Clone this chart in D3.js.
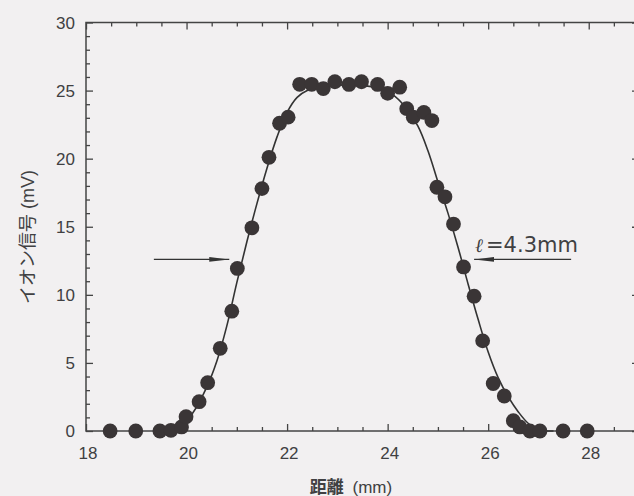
<!DOCTYPE html>
<html>
<head>
<meta charset="utf-8">
<script src="https://cdn.jsdelivr.net/npm/d3@7/dist/d3.min.js"></script>
<style>
  html, body { margin: 0; padding: 0; background: #f2f0f1; }
  svg { display: block; }
  text { font-family: "Liberation Sans", Arial, "Noto Sans CJK JP", sans-serif; fill: #404042; }
  .cjk { font-family: "Liberation Sans", "Noto Sans CJK JP", sans-serif; }
</style>
</head>
<body>
<svg id="chart" width="634" height="496"></svg>
<script>
// Measured ion signal vs. distance (mm, mV)
const pointX = [18.48, 18.99, 19.47, 19.69, 19.90, 19.99, 20.25, 20.42, 20.67, 20.90,
                21.01, 21.30, 21.50, 21.64, 21.85, 22.02, 22.25, 22.49, 22.72, 22.95,
                23.23, 23.48, 23.80, 24.00, 24.24, 24.38, 24.51, 24.72, 24.88, 24.98,
                25.14, 25.31, 25.51, 25.72, 25.89, 26.10, 26.32, 26.50, 26.63, 26.83,
                27.03, 27.49, 27.97];
const pointY = [0, 0, 0, 0.05, 0.3, 1.05, 2.15, 3.55, 6.07, 8.8,
                11.94, 14.92, 17.8, 20.1, 22.6, 23.05, 25.46, 25.46, 25.15, 25.65,
                25.45, 25.65, 25.45, 24.8, 25.25, 23.67, 23.05, 23.4, 22.8, 17.9,
                17.2, 15.2, 12.05, 9.9, 6.62, 3.49, 2.57, 0.76, 0.3, 0,
                0, 0, 0];

// Fitted profile drawn through the measurements
const fitX = [19.4, 19.7, 19.95, 20.12, 20.4, 20.6, 20.8, 21.0, 21.2, 21.4,
              21.6, 21.8, 22.0, 22.2, 22.4, 22.7, 23.0, 23.4, 23.8, 24.1,
              24.35, 24.6, 24.8, 25.0, 25.2, 25.4, 25.6, 25.8, 26.0, 26.2,
              26.4, 26.6, 26.8, 27.0, 27.3];
const fitY = [0, 0.08, 0.6, 1.3, 3.2, 5.1, 7.7, 10.9, 13.9, 16.7,
              19.3, 21.6, 23.4, 24.5, 25.0, 25.3, 25.4, 25.4, 25.2, 24.7,
              23.8, 22.4, 20.6, 18.3, 16.0, 13.5, 10.8, 8.2, 5.8, 3.9,
              2.5, 1.4, 0.55, 0.1, 0];

// Axis ticks
const xTicks = [18, 20, 22, 24, 26, 28];
const yTicks = [0, 5, 10, 15, 20, 25, 30];

// Width marker at half maximum
const widthLabel = "=4.3mm";
const halfLevel = 12.6;
const leftArrow = [19.35, 20.85];
const rightArrow = [27.65, 25.72];

const xLabelMain = "距離";
const xLabelUnit = " (mm)";
const yLabel = "イオン信号 (mV)";

const svg = d3.select("#chart");
const x = d3.scaleLinear().domain([18, 29]).range([86, 639]);
const y = d3.scaleLinear().domain([0, 30]).range([431, 22.5]);

const ink = "#3a3536";
const axisColor = "#444";

// Frame
svg.append("rect")
  .attr("x", x(18)).attr("y", y(30))
  .attr("width", x(29) - x(18)).attr("height", y(0) - y(30))
  .attr("fill", "none").attr("stroke", axisColor).attr("stroke-width", 1.5);

// Ticks (inward)
const xMinor = d3.range(18, 29.01, 0.5);
const yMinor = d3.range(0, 30.01, 1);
const isMajorX = v => Math.abs(v - Math.round(v / 2) * 2) < 1e-6;
const isMajorY = v => Math.abs(v - Math.round(v / 5) * 5) < 1e-6;

const gBottom = svg.append("g").attr("transform", `translate(0,${y(0)})`)
  .call(d3.axisBottom(x).tickValues(xMinor).tickSize(0).tickFormat(""));
gBottom.select(".domain").remove();
gBottom.selectAll(".tick line")
  .attr("y2", d => isMajorX(d) ? -7 : -4).attr("stroke", axisColor).attr("stroke-width", 1.3);

const gTop = svg.append("g").attr("transform", `translate(0,${y(30)})`)
  .call(d3.axisTop(x).tickValues(xMinor).tickSize(0).tickFormat(""));
gTop.select(".domain").remove();
gTop.selectAll(".tick line")
  .attr("y2", d => isMajorX(d) ? 7 : 4).attr("stroke", axisColor).attr("stroke-width", 1.3);

const gLeft = svg.append("g").attr("transform", `translate(${x(18)},0)`)
  .call(d3.axisLeft(y).tickValues(yMinor).tickSize(0).tickFormat(""));
gLeft.select(".domain").remove();
gLeft.selectAll(".tick line")
  .attr("x2", d => isMajorY(d) ? 7 : 4).attr("stroke", axisColor).attr("stroke-width", 1.3);

const gRight = svg.append("g").attr("transform", `translate(${x(29)},0)`)
  .call(d3.axisRight(y).tickValues(yMinor).tickSize(0).tickFormat(""));
gRight.select(".domain").remove();
gRight.selectAll(".tick line")
  .attr("x2", d => isMajorY(d) ? -7 : -4).attr("stroke", axisColor).attr("stroke-width", 1.3);

// Tick labels
svg.append("g").selectAll("text").data(xTicks).join("text")
  .attr("x", d => x(d) + 2).attr("y", y(0) + 28)
  .attr("text-anchor", "middle").attr("font-size", 17)
  .text(d => d);

svg.append("g").selectAll("text").data(yTicks).join("text")
  .attr("x", x(18) - 11).attr("y", d => y(d) + 6)
  .attr("text-anchor", "end").attr("font-size", 17)
  .text(d => d);

// Axis titles
const xt = svg.append("text").attr("class", "cjk")
  .attr("x", 351).attr("y", 493)
  .attr("text-anchor", "middle").attr("font-size", 17);
xt.append("tspan").attr("font-weight", "bold").text(xLabelMain);
xt.append("tspan").attr("dx", 4).text(xLabelUnit);

svg.append("text").attr("class", "cjk")
  .attr("transform", "translate(34,237) rotate(-90)")
  .attr("text-anchor", "middle").attr("font-size", 18)
  .text(yLabel);

// Fitted curve
const line = d3.line().x(d => x(d[0])).y(d => y(d[1])).curve(d3.curveCatmullRom.alpha(0.5));
svg.append("path")
  .datum(fitX.map((v, i) => [v, fitY[i]]))
  .attr("d", line)
  .attr("fill", "none").attr("stroke", "#333").attr("stroke-width", 1.6);

// Measured points
svg.append("g").selectAll("circle")
  .data(pointX.map((v, i) => [v, pointY[i]]))
  .join("circle")
  .attr("cx", d => x(d[0])).attr("cy", d => y(d[1]))
  .attr("r", 7.4).attr("fill", ink);

// Half-width arrows
const defs = svg.append("defs");
defs.append("marker")
  .attr("id", "head").attr("viewBox", "0 0 20 6")
  .attr("refX", 20).attr("refY", 3)
  .attr("markerWidth", 20).attr("markerHeight", 6)
  .attr("markerUnits", "userSpaceOnUse").attr("orient", "auto")
  .append("path").attr("d", "M0,0.6 L20,3 L0,5.4 Z").attr("fill", "#333");

[leftArrow, rightArrow].forEach(a => {
  svg.append("line")
    .attr("x1", x(a[0])).attr("x2", x(a[1]))
    .attr("y1", y(halfLevel)).attr("y2", y(halfLevel))
    .attr("stroke", "#333").attr("stroke-width", 1.2)
    .attr("marker-end", "url(#head)");
});

// Width label
const lab = svg.append("text")
  .attr("x", x(rightArrow[1]) + 1).attr("y", y(halfLevel) - 7)
  .style("font-family", "'DejaVu Sans', sans-serif")
  .style("font-size", "21px");
lab.append("tspan")
  .style("font-style", "italic").style("font-family", "'DejaVu Serif', serif")
  .style("font-size", "19px").text("ℓ");
lab.append("tspan").attr("dx", 3).text(widthLabel);
</script>
</body>
</html>
